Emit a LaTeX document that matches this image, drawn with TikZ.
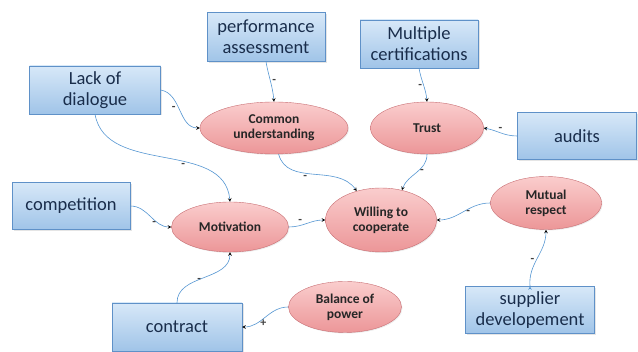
\documentclass[tikz,border=0pt]{standalone}
\usepackage{fontspec}
\setmainfont{Carlito}
\usepackage{tikz}
\usetikzlibrary{shapes,shadows,arrows}

\definecolor{boxline}{RGB}{95,145,200}
\definecolor{boxtop}{RGB}{215,232,248}
\definecolor{boxbot}{RGB}{160,196,232}
\definecolor{ovline}{RGB}{200,110,115}
\definecolor{ovtop}{RGB}{250,205,205}
\definecolor{ovbot}{RGB}{236,150,152}
\definecolor{linkcol}{RGB}{85,150,210}
\definecolor{boxtext}{RGB}{25,45,75}

\tikzset{
  factor/.style={rectangle, draw=boxline, top color=boxtop, bottom color=boxbot,
    align=center, inner sep=0pt, text=boxtext, font=\fontsize{18.5}{21}\selectfont,
    drop shadow={shadow xshift=1.5pt, shadow yshift=-1.5pt, fill=black!20}},
  effect/.style={ellipse, draw=ovline, top color=ovtop, bottom color=ovbot,
    align=center, inner sep=0pt, text=black!85, font=\bfseries\fontsize{13.5}{15}\selectfont,
    drop shadow={shadow xshift=1pt, shadow yshift=-1pt, fill=black!15}},
  link/.style={->, >=stealth, draw=linkcol, semithick},
  sign/.style={font=\bfseries\fontsize{12}{12}\selectfont, inner sep=1.5pt, text=black!75}
}

\begin{document}
\begin{tikzpicture}[x=1pt, y=1pt]
    \useasboundingbox (0,0) rectangle (638,352);
    % factors (boxes)
    \node[factor, minimum width=118, minimum height=49] (perf)     at (266,315) {performance\\assessment};
    \node[factor, minimum width=131, minimum height=48] (lack)     at (95,262)  {Lack of\\dialogue};
    \node[factor, minimum width=118, minimum height=48] (multi)    at (419,308) {Multiple\\certifications};
    \node[factor, minimum width=119, minimum height=47] (audits)   at (577,216) {audits};
    \node[factor, minimum width=118, minimum height=47] (compet)   at (71,146)  {competition};
    \node[factor, minimum width=130, minimum height=48] (contract) at (177,25)  {contract};
    \node[factor, minimum width=129, minimum height=47] (supplier) at (530,42)  {supplier\\developement};
    % effects (ellipses)
    \node[effect, minimum width=148, minimum height=52] (common)  at (274,224) {Common\\understanding};
    \node[effect, minimum width=113, minimum height=52] (trust)   at (427,224) {Trust};
    \node[effect, minimum width=117, minimum height=50] (motiv)   at (230,125) {Motivation};
    \node[effect, minimum width=111, minimum height=64] (willing) at (381,132) {Willing to\\cooperate};
    \node[effect, minimum width=111, minimum height=53] (mutual)  at (546,149) {Mutual\\respect};
    \node[effect, minimum width=113, minimum height=51] (balance) at (345,45)  {Balance of\\power};

    \path[link]
    (perf.south)       edge[out=-80, in=95]   node[sign, right] {-} (common.north)
    (lack.east)        edge[out=-10, in=180]  node[sign, below left, pos=.4] {-} (common.west)
    (lack.south)       edge[out=-80, in=95]   node[sign, pos=.6, below] {-} (motiv.north)
    (multi.south)      edge[out=-80, in=95]   node[sign, left, pos=.55] {-} (trust.north)
    (audits.west)      edge[out=180, in=-10]  node[sign, above, pos=.5] {-} (trust.east)
    (common.-80)       edge[out=-75, in=125]  node[sign, below left, pos=.45] {-} (willing.130)
    (trust.south)      edge[out=-90, in=70]   node[sign, right, pos=.45] {-} (willing.55)
    (mutual.west)      edge[out=180, in=0]    node[sign, below, pos=.4] {-} (willing.east)
    (compet.east)      edge[out=0, in=180]    node[sign, below, pos=.6] {-} (motiv.west)
    (motiv.east)       edge[out=0, in=180]    node[sign, above, pos=.3] {-} (willing.west)
    (contract.north)   edge[out=90, in=-90]   node[sign, right, pos=.4] {-} (motiv.south)
    (balance.west)     edge[out=180, in=0]    node[sign, below, pos=.55] {+} (contract.east)
    (supplier.north)   edge[out=95, in=-90]   node[sign, left, pos=.45] {-} (mutual.south);
\end{tikzpicture}
\end{document}
